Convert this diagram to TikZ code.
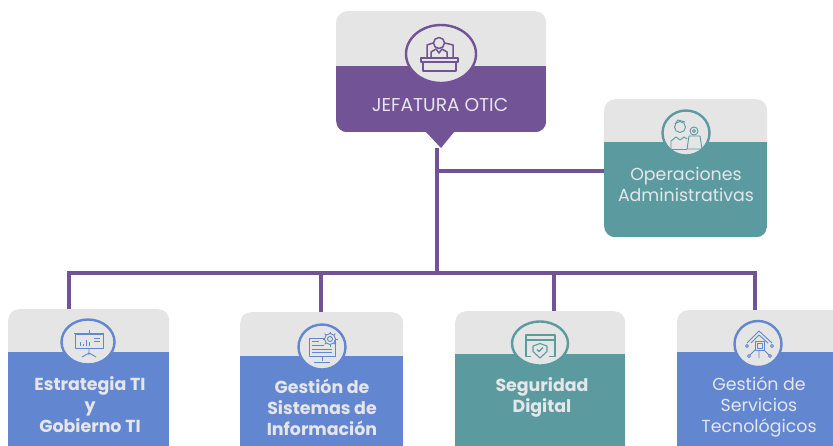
\documentclass[tikz,border=0pt]{standalone}
\usepackage{fontspec}
\usetikzlibrary{positioning,shapes.geometric}
\setmainfont{Poppins}
\definecolor{moradoc}{HTML}{725396}
\definecolor{tealc}{HTML}{5B9BA0}
\definecolor{azulc}{HTML}{6287D0}
\definecolor{grisc}{HTML}{E5E5E5}
\definecolor{textoc}{HTML}{E6E6EA}
\tikzset{
  card/.style 2 args={fill=grisc,rounded corners=11pt,anchor=north west,inner sep=0pt,
    path picture={\fill[#1,sharp corners] ([yshift=-#2 pt]path picture bounding box.north west)
      rectangle (path picture bounding box.south east);}},
  badge/.style={ellipse,draw=#1,fill=grisc,line width=2.4pt,inner sep=0pt},
  label/.style={text=textoc,align=center,font=\fontsize{17.4}{21}\selectfont},
  labelb/.style={label,font=\fontsize{17.4}{21}\selectfont\bfseries},
  trunk/.style={draw=moradoc,line width=3.4pt},
  icon/.style={draw=#1,line width=.9pt,line join=round}
}
\begin{document}
\begin{tikzpicture}[x=1pt,y=-1pt]
    \clip (0,0) rectangle (833,445);

    % cards
    \node[card={moradoc}{55},minimum width=210pt,minimum height=121pt] (jefe) at (336,11) {};
    \node[card={tealc}{43},minimum width=163pt,minimum height=138pt] (oper) at (604,99) {};
    \node[card={azulc}{43},minimum width=161pt,minimum height=160pt] (estra) at (8,309) {};
    \node[card={azulc}{44},minimum width=163pt,minimum height=160pt] (sist) at (240,312) {};
    \node[card={tealc}{43},minimum width=170pt,minimum height=160pt] (segu) at (455,311) {};
    \node[card={azulc}{42},minimum width=180pt,minimum height=160pt] (serv) at (677,310) {};

    % pointer below the head card
    \fill[moradoc] (426,132) -- (454,132) -- (441,148) -- cycle;

    % trunk and branches
    \coordinate (bar) at (437,273);
    \coordinate (top) at (437,148);
    \coordinate (side) at (437,171);
    \coordinate (barl) at (69,273);
    \coordinate (barr) at (755,273);
    \coordinate (bar2) at (321,273);
    \coordinate (bar3) at (554,273);
    \draw[trunk] (top) -- (bar);
    \draw[trunk] (side) -- (side -| oper.west);
    \draw[trunk,line cap=rect] (barl) -- (barr);
    \foreach \from/\to in {barl/estra,bar2/sist,bar3/segu,barr/serv}
    \draw[trunk] (\from) -- (\from |- \to.north);

    % badges
    \node[badge=moradoc,minimum width=70pt,minimum height=58pt] (bjefe) at (441,54) {};
    \node[badge=tealc,minimum width=47pt,minimum height=45pt] (boper) at (686,133) {};
    \node[badge=azulc,minimum width=53pt,minimum height=45pt] (bestra) at (88,342) {};
    \node[badge=azulc,minimum width=47pt,minimum height=45pt] (bsist) at (322,347) {};
    \node[badge=tealc,minimum width=56pt,minimum height=44pt] (bsegu) at (540,343.5) {};
    \node[badge=azulc,minimum width=47pt,minimum height=46pt] (bserv) at (758,344) {};

    % labels
    \node[label,font=\fontsize{18.6}{21}\selectfont] (ljefe) at (440,105) {JEFATURA OTIC};
    \node[label] (loper) at (686,184) {Operaciones\\Administrativas};
    \node[labelb] (lestra) at (90,404.5) {Estrategia TI\\y\\Gobierno TI};
    \node[labelb] (lsist) at (322,407) {Gestión de\\Sistemas de\\Información};
    \node[labelb] (lsegu) at (542,397.5) {Seguridad\\Digital};
    \node[label] (lserv) at (759,407) {Gestión de\\Servicios\\Tecnológicos};

    % icons
    \begin{scope}[shift={(bjefe.center)},icon=moradoc,line width=1.5pt]
      \draw (-20,4) rectangle (17,8);
      \draw (-18,8) rectangle (15,17);
      \draw (-2,-11) circle (5.5);
      \draw (-14,4) -- (-14,-9) -- (-8,-11);
      \draw (12,4) -- (12,-9) -- (4,-11);
      \draw (-10,4) -- (-10,-2) -- (-5,-5) -- (-2,-1) -- (1,-5) -- (6,-2) -- (6,4);
    \end{scope}
    \begin{scope}[shift={(boper.center)},icon=tealc]
      \draw (-6,-6) circle (5.5);
      \draw (-11,-9) -- (-8,-13) -- (-1,-11);
      \draw (-15,16) -- (-15,8) -- (-10,4) -- (-6,7) -- (-2,4) -- (1,6);
      \draw (1,16) -- (16,16) -- (14,3) -- (3,3) -- cycle;
      \draw (-15,16) -- (1,16);
      \draw (8,-2) circle (4);
      \draw (8,-2) circle (1.5);
    \end{scope}
    \begin{scope}[shift={(bestra.center)},icon=azulc]
      \draw (-13,-8) rectangle (15,6);
      \draw (-14,-9) -- (16,-9);
      \draw (1,-12) -- (1,-9);
      \draw (1,6) -- (1,13) (-6,15) -- (1,11) -- (8,15);
      \foreach \bx/\by in {-8/0,-5/2,-2/-2,1/0}
      \draw (\bx,4) -- (\bx,\by);
      \draw (6,-4) -- (12,-4) (6,-1) -- (12,-1);
    \end{scope}
    \begin{scope}[shift={(bsist.center)},icon=azulc]
      \draw (-13,-9) rectangle (13,9);
      \draw (-10,-6) -- (-3,-6) (-10,-2) -- (2,-2) (-10,2) -- (10,2) (-10,5) -- (10,5);
      \draw (0,9) -- (0,14) (-8,15) -- (8,15);
      \draw[fill=grisc] (8,-8) circle (5.5);
      \draw (8,-8) circle (2.5);
      \foreach \a in {0,45,...,315}
      \draw (8,-8) ++(\a:5.5) -- ++(\a:2);
    \end{scope}
    \begin{scope}[shift={(bsegu.center)},icon=tealc,line width=1.1pt]
      \draw (-9,13) -- (-14,13) -- (-14,-8.5) -- (15,-8.5) -- (15,13) -- (9,13);
      \draw (-14,-3.5) -- (15,-3.5);
      \draw (0,0) -- (7,2.5) -- (7,8) -- (0,14.5) -- (-7,8) -- (-7,2.5) -- cycle;
      \draw (-3,6) -- (-1,8) -- (3,4);
    \end{scope}
    \begin{scope}[shift={(bserv.center)},icon=azulc]
      \draw (-11,-1) -- (1,-13) -- (14,-1);
      \draw (-7,-1) -- (1,-9) -- (10,-1);
      \draw (-3,-3) rectangle (6,6);
      \draw (-1,-1) rectangle (4,4);
      \draw (-3,6) -- (-8,11) (6,6) -- (11,11) (1,6) -- (1,14);
      \draw (-11,2) circle (1.5) (14,2) circle (1.5) (-9,12) circle (1.5) (12,12) circle (1.5);
    \end{scope}
\end{tikzpicture}
\end{document}
